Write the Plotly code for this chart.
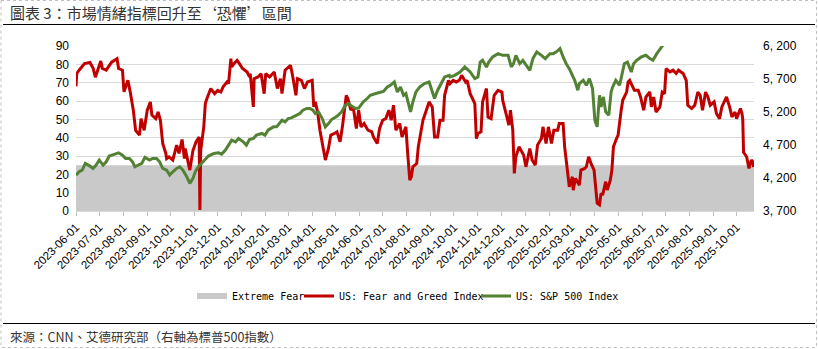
import plotly.graph_objects as go

# ---------------- data ----------------
fear_band_dates = ["2023-06-01", "2025-10-23 12:00"]
fear_band_values = [25, 25]

fg_dates = [
    "2023-06-01", "2023-06-02", "2023-06-05", "2023-06-12", "2023-06-19", "2023-06-23", "2023-06-26",
    "2023-07-03", "2023-07-05", "2023-07-10", "2023-07-17", "2023-07-24", "2023-07-26", "2023-07-31",
    "2023-08-02", "2023-08-07", "2023-08-10", "2023-08-14", "2023-08-17", "2023-08-22", "2023-08-24",
    "2023-08-28", "2023-09-01", "2023-09-05", "2023-09-07", "2023-09-12", "2023-09-15", "2023-09-18",
    "2023-09-21", "2023-09-25", "2023-09-26", "2023-09-29", "2023-10-04", "2023-10-09", "2023-10-12",
    "2023-10-16", "2023-10-19", "2023-10-20", "2023-10-26", "2023-10-30", "2023-11-03", "2023-11-07",
    "2023-11-08", "2023-11-09", "2023-11-13", "2023-11-15", "2023-11-17", "2023-11-22", "2023-11-27",
    "2023-12-01", "2023-12-05", "2023-12-08", "2023-12-13", "2023-12-15", "2023-12-18", "2023-12-19",
    "2023-12-22", "2023-12-26", "2023-12-29", "2024-01-02", "2024-01-08", "2024-01-11", "2024-01-12",
    "2024-01-16", "2024-01-17", "2024-01-22", "2024-01-26", "2024-01-30", "2024-02-01", "2024-02-06",
    "2024-02-12", "2024-02-16", "2024-02-20", "2024-02-22", "2024-02-26", "2024-03-04", "2024-03-07",
    "2024-03-11", "2024-03-13", "2024-03-18", "2024-03-22", "2024-03-26", "2024-04-01", "2024-04-03",
    "2024-04-05", "2024-04-08", "2024-04-11", "2024-04-15", "2024-04-18", "2024-04-22", "2024-04-25",
    "2024-04-30", "2024-05-03", "2024-05-07", "2024-05-10", "2024-05-15", "2024-05-17", "2024-05-21",
    "2024-05-24", "2024-05-28", "2024-05-31", "2024-06-03", "2024-06-07", "2024-06-12", "2024-06-17",
    "2024-06-19", "2024-06-24", "2024-06-27", "2024-07-01", "2024-07-05", "2024-07-09", "2024-07-12",
    "2024-07-15", "2024-07-18", "2024-07-23", "2024-07-26", "2024-07-31", "2024-08-02", "2024-08-05",
    "2024-08-07", "2024-08-09", "2024-08-14", "2024-08-16", "2024-08-22", "2024-08-26", "2024-08-30",
    "2024-09-03", "2024-09-06", "2024-09-10", "2024-09-13", "2024-09-17", "2024-09-19", "2024-09-24",
    "2024-09-26", "2024-09-30", "2024-10-04", "2024-10-08", "2024-10-11", "2024-10-16", "2024-10-18",
    "2024-10-22", "2024-10-25", "2024-10-28", "2024-10-30", "2024-11-01", "2024-11-05", "2024-11-07",
    "2024-11-12", "2024-11-14", "2024-11-18", "2024-11-22", "2024-11-27", "2024-12-02", "2024-12-03",
    "2024-12-09", "2024-12-11", "2024-12-13", "2024-12-16", "2024-12-18", "2024-12-20", "2024-12-24",
    "2024-12-30", "2025-01-02", "2025-01-07", "2025-01-10", "2025-01-14", "2025-01-17", "2025-01-22",
    "2025-01-24", "2025-01-28", "2025-01-31", "2025-02-04", "2025-02-07", "2025-02-12", "2025-02-14",
    "2025-02-19", "2025-02-21", "2025-02-25", "2025-02-27", "2025-03-03", "2025-03-04", "2025-03-07",
    "2025-03-12", "2025-03-14", "2025-03-19", "2025-03-21", "2025-03-24", "2025-03-27", "2025-03-31",
    "2025-04-02", "2025-04-04", "2025-04-07", "2025-04-09", "2025-04-11", "2025-04-15", "2025-04-17",
    "2025-04-21", "2025-04-23", "2025-04-25", "2025-04-29", "2025-05-01", "2025-05-05", "2025-05-07",
    "2025-05-12", "2025-05-14", "2025-05-16", "2025-05-19", "2025-05-22", "2025-05-27", "2025-05-30",
    "2025-06-03", "2025-06-06", "2025-06-11", "2025-06-13", "2025-06-16", "2025-06-19", "2025-06-24",
    "2025-06-27", "2025-06-30", "2025-07-02", "2025-07-07", "2025-07-11", "2025-07-15", "2025-07-18",
    "2025-07-24", "2025-07-28", "2025-07-30", "2025-08-04", "2025-08-08", "2025-08-12", "2025-08-15",
    "2025-08-18", "2025-08-22", "2025-08-25", "2025-08-28", "2025-09-02", "2025-09-05", "2025-09-09",
    "2025-09-12", "2025-09-18", "2025-09-22", "2025-09-25", "2025-09-29", "2025-10-01", "2025-10-06",
    "2025-10-08", "2025-10-09", "2025-10-10", "2025-10-14", "2025-10-15", "2025-10-17", "2025-10-20",
    "2025-10-22", "2025-10-23",
]
fg_values = [
    68, 75, 76.8, 80.4, 81, 78, 73,
    81.8, 77.7, 76.8, 81.2, 83.1, 77.7, 76.8,
    65, 71.3, 65, 55, 44, 41.4, 50.4,
    44, 55, 59.5, 52.3, 50.4, 54, 49.5,
    36.8, 31.4, 28.6, 29.5, 27.8, 35.9, 31.4,
    39, 28.6, 34.1, 22.3, 33, 37.7, 40.4,
    0.5, 33, 45.9, 58.6, 61.3, 66.8, 64,
    65.8, 64.9, 67.7, 70.4, 69.5, 83.1, 78.6,
    80.4, 82.2, 80.4, 77.7, 75.8, 73.1, 74.9,
    56.8, 72.2, 73.1, 74.9, 64, 74.9, 73.1,
    75.8, 66.8, 72.2, 64, 76.8, 79.5, 73.1,
    63.1, 72.2, 71.3, 66.8, 70.4, 71.3, 56.8,
    59.5, 54, 44.1, 35, 27.8, 34.1, 41.4,
    42.3, 43.2, 37.7, 45.9, 63.1, 61.3, 55,
    56.8, 45, 55, 45.9, 47.7, 44.1, 43.2,
    40.4, 36.8, 45, 49.5, 50.4, 55, 49.5,
    57.7, 44.1, 47.7, 40.4, 45.9, 33.2, 16.9,
    18.7, 24.1, 25.9, 35, 49.5, 54, 59.5,
    56.8, 40.4, 40.4, 49.5, 49.5, 63.1, 71.3,
    69.5, 71.3, 70.4, 71.3, 74, 70.4, 71.3,
    64, 61.3, 58.6, 39.5, 42.3, 43.2, 59.5,
    66.8, 51.3, 50.4, 63.1, 65.8, 64.9, 60.4,
    49.5, 46.8, 55, 44.1, 20.5, 29.6, 35,
    30.5, 24.1, 34.1, 27.8, 25, 36, 39.5,
    45.9, 36.8, 45.9, 36.8, 44.1, 44.1, 47.7,
    47.7, 35, 22.3, 13.2, 18.7, 11.4, 17.8,
    14.1, 22.3, 23.2, 24.1, 29.6, 26, 22.3,
    13.2, 4.2, 3.3, 9.6, 8.7, 16, 11.4,
    16.9, 22.3, 35, 39.5, 41.4, 55, 60.4,
    64.9, 70.4, 71.3, 68.6, 65.8, 65.8, 62.2,
    55, 62.2, 64.9, 56.8, 62.2, 54, 56.8,
    64.9, 64, 77.7, 75.9, 76.8, 75, 76.8,
    75, 71.3, 57.7, 55.9, 57.7, 64.9, 63.1,
    55, 64.9, 62.2, 57.7, 59.5, 53.2, 50.4,
    56.8, 62.2, 56.8, 51.3, 54, 50.4, 55.9,
    53.2, 50, 32, 29.6, 27.8, 23.2, 27.8,
    26.9, 24,
]

spx_dates = [
    "2023-06-01", "2023-06-05", "2023-06-09", "2023-06-13", "2023-06-19", "2023-06-23", "2023-06-27",
    "2023-07-01", "2023-07-06", "2023-07-10", "2023-07-14", "2023-07-21", "2023-07-26", "2023-07-31",
    "2023-08-04", "2023-08-09", "2023-08-13", "2023-08-16", "2023-08-20", "2023-08-25", "2023-08-29",
    "2023-09-04", "2023-09-08", "2023-09-13", "2023-09-17", "2023-09-21", "2023-09-26", "2023-09-30",
    "2023-10-04", "2023-10-09", "2023-10-13", "2023-10-17", "2023-10-22", "2023-10-26", "2023-10-30",
    "2023-11-02", "2023-11-06", "2023-11-10", "2023-11-15", "2023-11-19", "2023-11-26", "2023-12-02",
    "2023-12-06", "2023-12-11", "2023-12-15", "2023-12-19", "2023-12-24", "2023-12-28", "2024-01-03",
    "2024-01-07", "2024-01-11", "2024-01-16", "2024-01-20", "2024-01-27", "2024-01-31", "2024-02-04",
    "2024-02-11", "2024-02-15", "2024-02-22", "2024-02-26", "2024-03-01", "2024-03-05", "2024-03-12",
    "2024-03-16", "2024-03-20", "2024-03-25", "2024-03-29", "2024-04-02", "2024-04-05", "2024-04-09",
    "2024-04-14", "2024-04-18", "2024-04-22", "2024-04-26", "2024-05-03", "2024-05-09", "2024-05-14",
    "2024-05-18", "2024-05-22", "2024-05-27", "2024-05-31", "2024-06-06", "2024-06-11", "2024-06-15",
    "2024-06-22", "2024-06-28", "2024-07-02", "2024-07-07", "2024-07-11", "2024-07-16", "2024-07-20",
    "2024-07-24", "2024-07-28", "2024-07-31", "2024-08-03", "2024-08-06", "2024-08-09", "2024-08-13",
    "2024-08-18", "2024-08-24", "2024-08-30", "2024-09-04", "2024-09-06", "2024-09-10",
    "2024-09-15", "2024-09-19", "2024-09-25", "2024-09-26", "2024-10-02", "2024-10-09", "2024-10-15",
    "2024-10-22", "2024-10-28", "2024-11-01", "2024-11-04", "2024-11-07", "2024-11-12", "2024-11-15",
    "2024-11-20", "2024-11-27", "2024-12-03", "2024-12-10", "2024-12-14", "2024-12-17", "2024-12-20",
    "2024-12-25", "2024-12-29", "2025-01-02", "2025-01-07", "2025-01-11", "2025-01-16", "2025-01-22",
    "2025-01-27", "2025-02-02", "2025-02-06", "2025-02-10", "2025-02-15", "2025-02-19", "2025-02-23",
    "2025-02-27", "2025-03-02", "2025-03-06", "2025-03-10", "2025-03-12", "2025-03-17", "2025-03-21",
    "2025-03-25", "2025-03-29", "2025-04-01", "2025-04-04", "2025-04-07", "2025-04-09", "2025-04-12",
    "2025-04-15", "2025-04-19", "2025-04-22", "2025-04-24", "2025-04-28", "2025-05-03", "2025-05-06",
    "2025-05-09", "2025-05-13", "2025-05-18", "2025-05-21", "2025-05-25", "2025-05-31", "2025-06-06",
    "2025-06-11", "2025-06-15", "2025-06-20", "2025-06-24", "2025-06-28", "2025-07-02", "2025-07-10",
    "2025-07-25", "2025-08-01", "2025-08-15", "2025-09-01", "2025-09-19", "2025-10-08", "2025-10-23",
]
spx_values = [
    4244, 4294, 4320, 4421, 4380, 4345, 4395,
    4471, 4395, 4445, 4532, 4562, 4582, 4547,
    4497, 4497, 4445, 4370, 4395, 4421, 4512,
    4471, 4497, 4497, 4445, 4345, 4320, 4244,
    4294, 4345, 4370, 4320, 4219, 4119, 4194,
    4294, 4370, 4421, 4497, 4532, 4572, 4582,
    4562, 4622, 4698, 4774, 4748, 4799, 4748,
    4698, 4784, 4799, 4849, 4875, 4849, 4925,
    4975, 4975, 5076, 5050, 5101, 5111, 5152,
    5177, 5227, 5253, 5253, 5227, 5177, 5202,
    5101, 4975, 5025, 5085, 5136, 5202, 5303,
    5328, 5290, 5253, 5260, 5353, 5404, 5454,
    5480, 5504, 5510, 5580, 5605, 5655, 5504,
    5580, 5454, 5480, 5353, 5202, 5353, 5504,
    5580, 5630, 5655, 5454, 5404, 5530,
    5630, 5731, 5756, 5731, 5756, 5806,
    5882, 5806, 5706, 5731, 5957, 5983, 5882,
    5957, 6034, 6084, 6059, 6059, 5882, 5932,
    6059, 5932, 5983, 5907, 5832, 6009, 6109,
    6059, 6009, 6084, 6084, 6109, 6160, 6034,
    5932, 5857, 5782, 5681, 5530, 5630, 5681,
    5605, 5706, 5555, 5076, 4975, 5454, 5277,
    5428, 5202, 5152, 5504, 5580, 5681, 5605,
    5756, 5932, 5957, 5806, 5932, 5983, 6034,
    6059, 6009, 5983, 6084, 6160, 6215, 6280,
    6380, 6240, 6450, 6460, 6660, 6750, 6700,
]

left_ticks = [0, 10, 20, 30, 40, 50, 60, 70, 80, 90]
right_ticks = [3700, 4200, 4700, 5200, 5700, 6200]
right_tick_text = ["3, 700", "4, 200", "4, 700", "5, 200", "5, 700", "6, 200"]

title_text = "圖表 3：市場情緒指標回升至‘恐懼’區間"
source_text = "來源：CNN、艾德研究部（右軸為標普500指數）"

# ---------------- layout helpers ----------------
W, H = 818, 349
L, R, T, B = 76, 64, 46, 138
PW, PH = W - L - R, H - T - B


def px_x(px):
    return (px - L) / PW


def px_y(py):
    return (H - B - py) / PH


RED = "#C00000"
GREEN = "#548235"
GREY = "#C9C9C9"
TICK_FONT = dict(family="Arial, Liberation Sans, sans-serif", size=12, color="#000000")
LEGEND_FONT = dict(family="DejaVu Sans Mono, monospace", size=10, color="#000000")


def legend_at(px):
    return dict(orientation="h", x=px_x(px), xanchor="left", y=px_y(296), yanchor="middle",
                font=LEGEND_FONT, bgcolor="rgba(0,0,0,0)", itemwidth=30)


fig = go.Figure()
fig.add_trace(go.Scatter(
    x=fear_band_dates, y=fear_band_values, name="Extreme Fear",
    mode="none", fill="tozeroy", fillcolor=GREY, hoverinfo="skip", legend="legend",
))
fig.add_trace(go.Scatter(
    x=fg_dates, y=fg_values, name="US: Fear and Greed Index",
    mode="lines", line=dict(color=RED, width=3), legend="legend2",
))
fig.add_trace(go.Scatter(
    x=spx_dates, y=spx_values, name="US: S&P 500 Index",
    mode="lines", line=dict(color=GREEN, width=3), yaxis="y2", legend="legend3",
))

fig.update_layout(
    width=W, height=H,
    margin=dict(l=L, r=R, t=T, b=B, pad=0),
    paper_bgcolor="white", plot_bgcolor="white",
    showlegend=True,
    legend=legend_at(192),
    legend2=legend_at(299),
    legend3=legend_at(476),
    xaxis=dict(
        type="date", range=["2023-06-01", "2025-10-23 12:00"],
        tick0="2023-06-01", dtick="M1", tickformat="%Y-%m-%d",
        tickangle=-45, tickfont=dict(family="Arial, Liberation Sans, sans-serif", size=11.5, color="#000000"),
        ticks="outside", ticklen=4, tickcolor="#BFBFBF", tickwidth=1,
        showgrid=False, showline=True, linecolor="#D9D9D9", linewidth=1,
        zeroline=False,
    ),
    yaxis=dict(
        range=[0, 90], tickvals=left_ticks, tickfont=TICK_FONT,
        showgrid=True, gridcolor="#D9D9D9", gridwidth=1,
        zeroline=False, showline=False, ticks="", ticklabelstandoff=6,
    ),
    yaxis2=dict(
        range=[3700, 6200], tickvals=right_ticks, ticktext=right_tick_text,
        tickfont=TICK_FONT, overlaying="y", side="right",
        showgrid=False, zeroline=False, showline=False, ticks="", ticklabelstandoff=8,
    ),
    annotations=[
        dict(text=title_text, xref="paper", yref="paper", x=px_x(8), y=px_y(12),
             xanchor="left", yanchor="middle", showarrow=False,
             font=dict(family="Noto Sans CJK TC, sans-serif", size=15, color="#333333")),
        dict(text=source_text, xref="paper", yref="paper", x=px_x(8), y=px_y(336),
             xanchor="left", yanchor="middle", showarrow=False,
             font=dict(family="Noto Sans CJK TC, sans-serif", size=12.5, color="#333333")),
    ],
    shapes=[
        dict(type="line", xref="paper", yref="paper", x0=px_x(3), x1=px_x(815),
             y0=px_y(24.5), y1=px_y(24.5), line=dict(color="#000000", width=1)),
        dict(type="line", xref="paper", yref="paper", x0=px_x(3), x1=px_x(815),
             y0=px_y(323.5), y1=px_y(323.5), line=dict(color="#000000", width=1)),
        dict(type="rect", xref="paper", yref="paper", x0=px_x(1), x1=px_x(816.5),
             y0=px_y(0.5), y1=px_y(347.5), line=dict(color="#BFBFBF", width=1, dash="dot")),
    ],
)

fig.write_html("out.html")
